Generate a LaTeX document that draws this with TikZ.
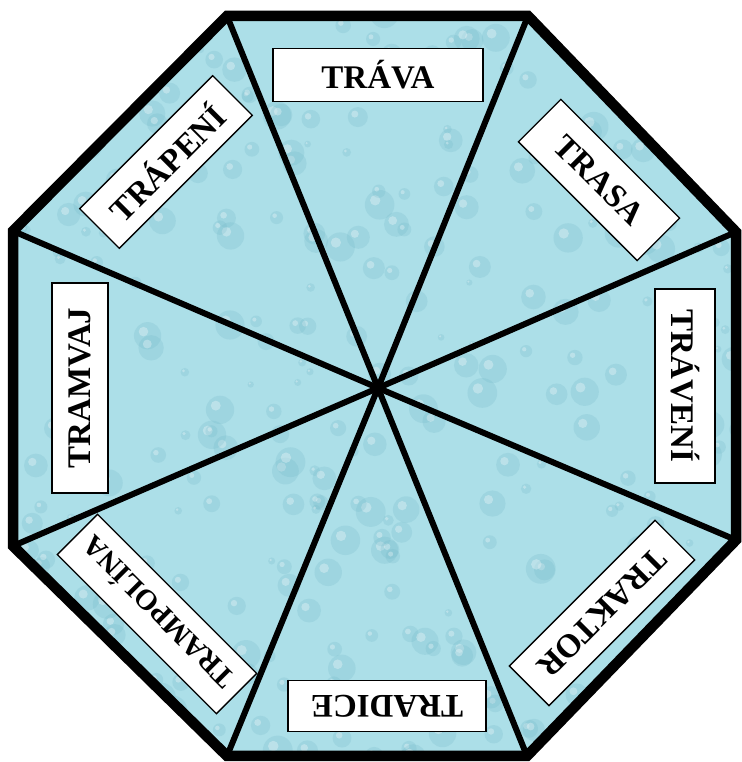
\documentclass[tikz,border=0pt]{standalone}
\usepackage{fontspec}
\setmainfont{Liberation Serif}
\definecolor{water}{RGB}{172,223,232}
\definecolor{dropdark}{RGB}{112,182,198}
\begin{document}
\begin{tikzpicture}[x=1pt,y=1pt,
  lbl/.style n args={2}{draw=black,line width=1.3pt,fill=white,inner sep=0pt,
     minimum width=#1,minimum height=#2,
     font=\fontsize{33}{33}\selectfont\bfseries},
  spoke/.style={line width=6pt,black},
  rim/.style={line width=10.5pt,black,line join=miter}]
\useasboundingbox (0,0) rectangle (741,762);
\coordinate (C) at (378,374);
\coordinate (v1) at (227,746);
\coordinate (v2) at (528,746);
\coordinate (v3) at (736,530);
\coordinate (v4) at (736,222);
\coordinate (v5) at (527,6);
\coordinate (v6) at (227,6);
\coordinate (v7) at (13,216);
\coordinate (v8) at (13,531);
\begin{scope}
  \clip (v1)--(v2)--(v3)--(v4)--(v5)--(v6)--(v7)--(v8)--cycle;
  \fill[water] (0,0) rectangle (741,762);
  \pgfmathsetseed{42}
  \foreach \i in {1,...,320}{
    \pgfmathsetmacro\px{741*rnd}
    \pgfmathsetmacro\py{762*rnd}
    \pgfmathsetmacro\pr{3+12*rnd}
    \fill[dropdark,opacity=0.22] (\px,\py) circle (\pr);
    \fill[white,opacity=0.3] ({\px-0.3*\pr},{\py+0.3*\pr}) circle ({0.35*\pr});
  }
\end{scope}
\foreach \v in {v1,v2,v3,v4,v5,v6,v7,v8}{\draw[spoke] (C) -- (\v);}
\draw[rim] (v1)--(v2)--(v3)--(v4)--(v5)--(v6)--(v7)--(v8)--cycle;
\node[lbl={210pt}{53pt}] (trava) at (378,687) {TRÁVA};
\node[lbl={168pt}{60pt},rotate=-45] (trasa) at (599,582) {TRASA};
\node[lbl={194pt}{60pt},rotate=-90] (traveni) at (685,376) {TRÁVENÍ};
\node[lbl={206pt}{56pt},rotate=-135] (traktor) at (602,149) {TRAKTOR};
\node[lbl={198pt}{51pt},rotate=180] (tradice) at (387,56) {TRADICE};
\node[lbl={225pt}{57pt},rotate=135,font=\fontsize{29}{29}\selectfont\bfseries] (trampolina) at (157,148) {TRAMPOLÍNA};
\node[lbl={210pt}{56pt},rotate=90] (tramvaj) at (80,374) {TRAMVAJ};
\node[lbl={188pt}{56pt},rotate=45] (trapeni) at (166,600) {TRÁPENÍ};
\end{tikzpicture}
\end{document}
